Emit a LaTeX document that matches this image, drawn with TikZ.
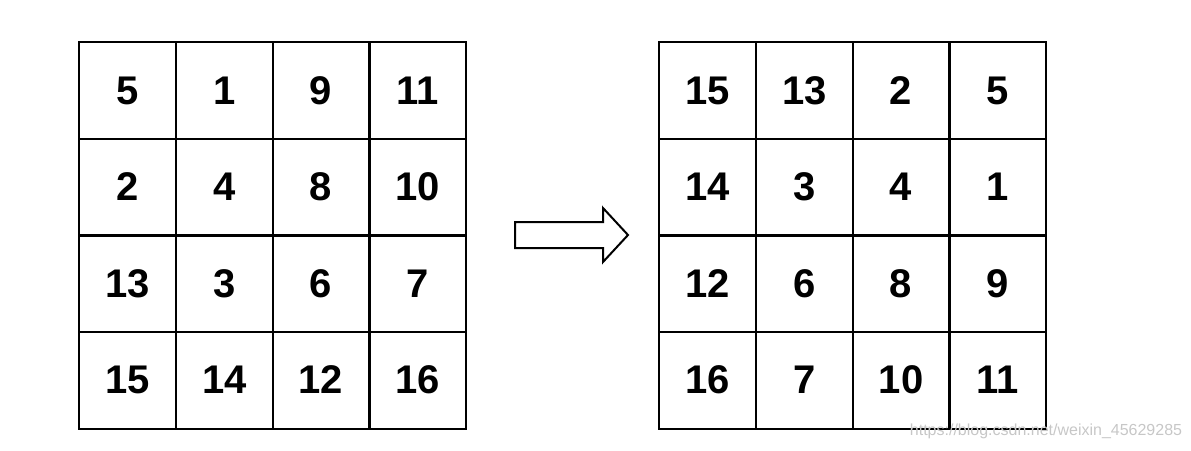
\documentclass[tikz,border=0pt]{standalone}
\usepackage{fontspec}
\setmainfont{Liberation Sans}
\usepackage{tikz}
\usetikzlibrary{shapes,arrows,positioning,calc}

\begin{document}
\begin{tikzpicture}[
    x=0.75pt, y=-0.75pt,
    every node/.style={font=\fontsize{30}{36}\selectfont\bfseries},
    cell/.style={rectangle, draw, line width=1.5pt, minimum size=72.75pt, inner sep=0pt, text centered},
    bigarrow/.style={draw, line width=1.5pt, line join=miter},
    watermark/.style={font=\fontsize{12}{14}\selectfont, text=black!22}
]
\useasboundingbox (0,0) rectangle (1191,450);

% Left grid
\foreach \v [count=\i from 0] in {5,1,9,11,2,4,8,10,13,3,6,7,15,14,12,16} {
    \pgfmathtruncatemacro{\r}{div(\i,4)}
    \pgfmathtruncatemacro{\c}{mod(\i,4)}
    \node[cell] (left-\r-\c) at ({127.5+96.75*\c},{90.5+96.5*\r}) {\v};
}

% Right grid
\foreach \v [count=\i from 0] in {15,13,2,5,14,3,4,1,12,6,8,9,16,7,10,11} {
    \pgfmathtruncatemacro{\r}{div(\i,4)}
    \pgfmathtruncatemacro{\c}{mod(\i,4)}
    \node[cell] (right-\r-\c) at ({707.5+96.75*\c},{90.5+96.5*\r}) {\v};
}

% Arrow between the grids
\draw[bigarrow] (515,222) -- (603,222) -- (603,208) -- (628,235)
    -- (603,262) -- (603,248) -- (515,248) -- cycle;

% Watermark
\node[watermark] (mark) at (1046,431) {https://blog.csdn.net/weixin\_45629285};

\end{tikzpicture}
\end{document}
